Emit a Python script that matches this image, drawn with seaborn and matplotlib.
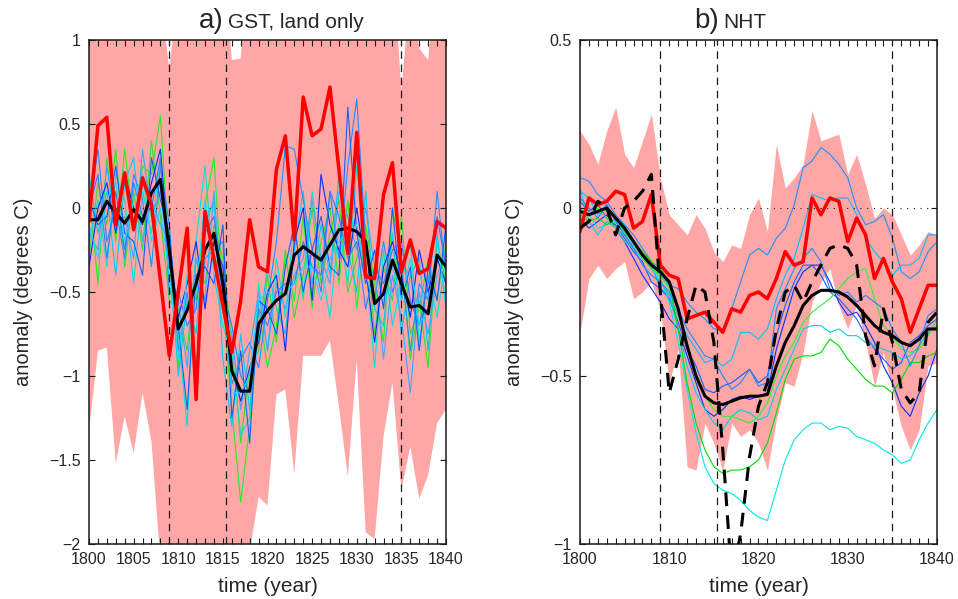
import matplotlib
matplotlib.use("Agg")
import matplotlib.pyplot as plt
import seaborn as sns
from matplotlib.ticker import MultipleLocator, FuncFormatter

years = list(range(1800, 1841))
eruptions = [1809, 1815.3, 1835]

# ---- a) GST, land only ----
gst_upper = [1.30, 1.40, 1.35, 1.30, 1.45, 1.30, 1.40, 1.35, 1.25, 0.83,
             1.30, 1.40, 1.25, 1.35, 1.40, 1.60, 0.88, 0.89, 1.60, 1.40,
             1.30, 1.35, 1.40, 1.30, 1.45, 1.35, 1.40, 1.50, 1.40, 1.35,
             1.45, 1.40, 1.30, 1.35, 1.50, 0.70, 1.30, 0.95, 0.88, 1.50,
             1.40]
gst_lower = [-1.33, -0.85, -0.83, -1.52, -1.24, -1.46, -1.10, -1.39, -2.10, -2.30,
             -2.40, -2.30, -2.50, -2.30, -2.40, -2.30, -2.50, -2.40, -2.05, -1.72,
             -1.77, -1.11, -1.08, -1.58, -0.88, -0.88, -0.88, -0.79, -1.18, -1.60,
             -0.90, -1.93, -1.97, -1.36, -1.04, -1.68, -1.42, -1.73, -1.59, -1.28,
             -1.20]
gst_red = [-0.08, 0.49, 0.54, -0.10, 0.21, -0.13, 0.18, 0.02, -0.43, -0.88,
           -0.50, -0.12, -1.14, -0.02, -0.30, -0.58, -0.86, -0.55, -0.07, -0.35,
           -0.38, 0.23, 0.43, -0.19, 0.66, 0.43, 0.47, 0.72, 0.23, -0.27,
           0.45, -0.41, -0.42, 0.08, 0.27, -0.38, -0.19, -0.39, -0.36, -0.08,
           -0.12]
gst_mean = [-0.07, -0.07, 0.04, -0.03, -0.09, -0.01, -0.08, 0.09, 0.17, -0.25,
            -0.72, -0.61, -0.45, -0.25, -0.15, -0.45, -0.97, -1.09, -1.09, -0.69,
            -0.61, -0.55, -0.51, -0.28, -0.23, -0.27, -0.31, -0.22, -0.13, -0.12,
            -0.14, -0.20, -0.57, -0.51, -0.31, -0.45, -0.59, -0.58, -0.63, -0.28,
            -0.35]
gst_members = {
    "#22ee22": [0.10, -0.45, 0.30, -0.20, 0.35, -0.10, 0.25, 0.20, 0.55, -0.30,
                -0.95, -0.40, -0.55, 0.02, 0.30, -0.55, -1.20, -1.75, -1.30, -0.60,
                -0.95, -0.70, -0.30, -0.55, -0.05, -0.60, -0.20, 0.00, -0.45, 0.05,
                -0.60, -0.10, -0.45, -0.80, 0.00, -0.30, -0.90, -0.55, -0.95, -0.20,
                -0.45],
    "#33dd33": [-0.30, 0.15, -0.10, 0.35, -0.35, 0.10, -0.25, 0.40, -0.05, -0.55,
                -0.60, -0.85, -0.30, -0.45, -0.10, -0.30, -0.80, -1.40, -0.95, -0.85,
                -0.40, -0.80, -0.25, -0.65, -0.40, 0.00, -0.45, -0.15, 0.05, -0.50,
                -0.30, -0.15, -0.75, -0.35, -0.55, -0.05, -0.75, -0.60, -0.30, -0.55,
                -0.20],
    "#00e5d0": [-0.20, 0.05, -0.35, 0.20, 0.05, -0.45, 0.10, -0.15, 0.30, -0.45,
                -0.75, -1.30, -0.20, 0.25, -0.40, -0.70, -0.85, -1.35, -1.25, -0.45,
                -0.85, -0.30, -0.65, -0.05, -0.55, 0.10, -0.35, -0.65, -0.10, -0.45,
                0.25, -0.30, -0.95, -0.25, -0.70, -0.45, -0.20, -0.80, -0.40, -0.65,
                -0.30],
    "#00ccee": [0.20, -0.15, 0.10, -0.40, 0.15, 0.30, -0.20, 0.05, -0.10, -0.20,
                -1.00, -0.55, -0.75, -0.10, 0.05, -0.90, -1.30, -0.75, -1.20, -0.75,
                -0.35, -0.60, -0.75, -0.25, 0.10, -0.45, -0.10, -0.40, 0.20, -0.25,
                -0.50, 0.10, -0.60, -0.70, -0.15, -0.75, -0.40, -0.30, -0.85, -0.15,
                -0.60],
    "#1e90ff": [-0.05, 0.35, -0.20, 0.00, -0.30, 0.20, 0.05, -0.35, 0.25, -0.10,
                -0.85, -0.50, -0.95, -0.30, -0.25, -0.20, -1.05, -0.90, -0.80, -0.95,
                -0.55, -0.20, 0.37, 0.35, 0.05, -0.25, -0.50, 0.10, -0.30, 0.25,
                0.65, -0.20, -0.55, -0.20, -0.50, -0.35, -0.85, -0.45, -0.55, 0.10,
                -0.40],
    "#3aa8ff": [-0.15, -0.25, 0.25, -0.10, -0.05, -0.30, 0.35, -0.05, 0.10, -0.35,
                -0.55, -0.95, -0.30, -0.55, 0.10, -0.60, -0.75, -1.20, -0.85, -0.50,
                -0.85, -0.45, -0.60, -0.40, -0.30, 0.05, -0.30, -0.45, 0.10, -0.05,
                -0.25, 0.00, -0.35, -0.90, -0.40, -0.65, -1.10, -0.50, -0.75, -0.40,
                -0.25],
    "#1060ff": [0.05, -0.10, -0.05, 0.25, -0.15, -0.20, -0.40, 0.30, 0.05, -0.15,
                -0.70, -1.20, -0.40, -0.35, -0.45, -0.10, -1.25, -0.85, -1.40, -0.55,
                -0.60, -0.75, -0.35, -0.10, -0.50, -0.25, -0.05, -0.35, -0.40, 0.60,
                -0.15, -0.45, -0.25, -0.60, 0.00, -0.55, -0.35, -0.85, -0.35, -0.55,
                -0.10],
    "#0030ff": [-0.35, 0.00, 0.15, -0.15, 0.20, 0.00, -0.10, 0.15, 0.35, -0.30,
                -0.65, -0.45, -0.20, -0.60, -0.20, -0.35, -0.95, -1.15, -0.95, -0.80,
                -0.50, -0.40, -0.85, -0.20, 0.00, -0.55, 0.20, -0.10, -0.25, -0.35,
                0.00, -0.35, -0.80, -0.35, -0.20, -0.40, -0.65, -0.25, -0.50, -0.30,
                -0.45],
    "#2a7fff": [0.00, 0.20, -0.30, 0.10, -0.25, 0.15, -0.05, 0.00, 0.30, -0.50,
                -0.50, -0.70, -0.60, -0.15, -0.05, -0.50, -0.70, -1.00, -1.10, -0.60,
                -0.70, -0.50, -0.45, -0.45, -0.20, -0.35, -0.40, 0.10, -0.05, -0.30,
                -0.20, -0.60, -0.35, -0.45, -0.25, -0.20, -0.55, -0.70, -0.45, -0.05,
                -0.35],
    "#19d9ff": [-0.10, -0.30, 0.05, 0.15, -0.20, 0.05, 0.20, -0.20, 0.00, -0.40,
                -0.90, -0.40, -0.50, 0.05, -0.30, -0.45, -1.10, -1.10, -1.00, -0.55,
                -0.50, -0.55, -0.50, -0.45, -0.35, -0.35, -0.55, -0.30, -0.20, -0.15,
                -0.10, -0.40, -0.55, -0.50, -0.35, -0.55, -0.30, -0.70, -0.60, -0.20,
                -0.55],
}

# ---- b) NHT ----
nht_upper = [0.23, 0.19, 0.13, 0.23, 0.30, 0.16, 0.12, 0.20, 0.28, 0.09,
             -0.02, -0.05, -0.08, -0.02, -0.06, -0.13, -0.16, -0.11, -0.12, -0.02,
             0.03, -0.07, 0.19, 0.06, 0.09, 0.13, 0.29, 0.20, 0.21, 0.22,
             0.10, 0.16, 0.07, -0.03, 0.00, -0.02, -0.08, -0.14, -0.11, -0.07,
             -0.08]
nht_lower = [-0.37, -0.21, -0.17, -0.21, -0.18, -0.16, -0.27, -0.25, -0.22, -0.30,
             -0.52, -0.42, -0.77, -0.78, -0.64, -0.70, -0.78, -0.64, -0.68, -0.66,
             -0.70, -0.78, -0.63, -0.52, -0.53, -0.43, -0.28, -0.22, -0.18, -0.29,
             -0.36, -0.29, -0.40, -0.53, -0.43, -0.54, -0.65, -0.72, -0.66, -0.47,
             -0.46]
nht_red = [-0.07, 0.03, 0.01, 0.02, 0.05, 0.04, -0.06, -0.04, 0.04, -0.17,
           -0.20, -0.21, -0.33, -0.32, -0.31, -0.34, -0.37, -0.30, -0.31, -0.26,
           -0.25, -0.27, -0.21, -0.13, -0.17, -0.16, 0.03, -0.02, 0.03, 0.02,
           -0.10, -0.03, -0.08, -0.21, -0.15, -0.22, -0.27, -0.37, -0.30, -0.23,
           -0.23]
nht_mean = [-0.01, -0.02, -0.01, 0.00, -0.03, -0.06, -0.10, -0.14, -0.17, -0.19,
            -0.22, -0.30, -0.41, -0.50, -0.56, -0.58, -0.585, -0.575, -0.565, -0.56,
            -0.56, -0.555, -0.47, -0.40, -0.35, -0.29, -0.26, -0.245, -0.245, -0.25,
            -0.265, -0.29, -0.32, -0.35, -0.37, -0.38, -0.40, -0.41, -0.39, -0.36,
            -0.36]
nht_recon = [-0.06, -0.04, 0.02, 0.00, -0.08, 0.00, 0.02, 0.05, 0.10, -0.25,
             -0.55, -0.45, -0.33, -0.23, -0.25, -0.40, -0.72, -1.10, -0.97, -0.74,
             -0.59, -0.52, -0.36, -0.25, -0.23, -0.28, -0.22, -0.17, -0.12, -0.11,
             -0.12, -0.17, -0.38, -0.47, -0.30, -0.40, -0.54, -0.58, -0.55, -0.34,
             -0.31]
nht_members = {
    "#1e90ff": [0.09, 0.08, 0.04, 0.02, -0.02, -0.05, -0.08, -0.12, -0.16, -0.20,
                -0.23, -0.24, -0.28, -0.31, -0.33, -0.36, -0.36, -0.30, -0.22, -0.14,
                -0.12, -0.14, -0.09, -0.06, 0.01, 0.12, 0.14, 0.18, 0.16, 0.13,
                0.09, 0.00, -0.05, -0.04, -0.02, -0.09, -0.19, -0.21, -0.19, -0.13,
                -0.10],
    "#00bfff": [0.05, 0.03, -0.02, 0.01, -0.04, -0.07, -0.12, -0.15, -0.17, -0.24,
                -0.26, -0.32, -0.38, -0.42, -0.46, -0.45, -0.47, -0.45, -0.37, -0.37,
                -0.39, -0.36, -0.27, -0.20, -0.15, -0.06, 0.04, 0.03, 0.02, 0.03,
                0.03, -0.02, -0.09, -0.13, -0.16, -0.20, -0.17, -0.17, -0.15, -0.08,
                -0.08],
    "#0030ff": [-0.03, -0.06, -0.04, -0.02, -0.06, -0.10, -0.15, -0.20, -0.24, -0.28,
                -0.33, -0.36, -0.44, -0.52, -0.60, -0.62, -0.60, -0.57, -0.56, -0.57,
                -0.56, -0.55, -0.42, -0.33, -0.24, -0.19, -0.17, -0.17, -0.22, -0.28,
                -0.32, -0.31, -0.35, -0.40, -0.47, -0.52, -0.59, -0.62, -0.55, -0.50,
                -0.42],
    "#1560ff": [0.02, -0.01, 0.01, -0.03, -0.05, -0.09, -0.13, -0.16, -0.22, -0.24,
                -0.27, -0.34, -0.42, -0.47, -0.54, -0.55, -0.53, -0.52, -0.50, -0.48,
                -0.52, -0.50, -0.38, -0.29, -0.22, -0.17, -0.17, -0.20, -0.25, -0.27,
                -0.30, -0.33, -0.38, -0.42, -0.45, -0.48, -0.46, -0.40, -0.38, -0.35,
                -0.33],
    "#00e8e8": [0.00, -0.02, -0.06, -0.05, -0.04, -0.08, -0.11, -0.14, -0.17, -0.21,
                -0.28, -0.40, -0.54, -0.67, -0.77, -0.82, -0.84, -0.85, -0.87, -0.90,
                -0.92, -0.93, -0.84, -0.75, -0.69, -0.66, -0.64, -0.64, -0.66, -0.65,
                -0.655, -0.68, -0.69, -0.70, -0.72, -0.735, -0.76, -0.75, -0.69, -0.64,
                -0.60],
    "#00d0e0": [0.06, -0.04, -0.08, -0.04, -0.06, -0.10, -0.12, -0.15, -0.18, -0.22,
                -0.26, -0.36, -0.47, -0.55, -0.60, -0.64, -0.66, -0.62, -0.60, -0.61,
                -0.63, -0.62, -0.54, -0.48, -0.42, -0.36, -0.35, -0.35, -0.37, -0.36,
                -0.38, -0.38, -0.40, -0.41, -0.42, -0.43, -0.45, -0.44, -0.41, -0.37,
                -0.35],
    "#00dd00": [-0.02, -0.04, -0.03, -0.05, -0.03, -0.07, -0.10, -0.13, -0.16, -0.18,
                -0.22, -0.36, -0.52, -0.64, -0.72, -0.77, -0.79, -0.78, -0.78, -0.77,
                -0.75, -0.70, -0.61, -0.51, -0.45, -0.44, -0.44, -0.43, -0.39, -0.41,
                -0.45, -0.48, -0.51, -0.53, -0.53, -0.55, -0.51, -0.46, -0.46, -0.44,
                -0.43],
    "#33ee33": [-0.05, -0.02, 0.00, -0.03, -0.06, -0.08, -0.10, -0.15, -0.18, -0.20,
                -0.24, -0.30, -0.40, -0.49, -0.56, -0.60, -0.62, -0.62, -0.63, -0.64,
                -0.62, -0.58, -0.50, -0.44, -0.40, -0.34, -0.31, -0.29, -0.27, -0.24,
                -0.21, -0.19, -0.18, -0.27, -0.35, -0.38, -0.42, -0.43, -0.42, -0.38,
                -0.33],
    "#2288ff": [0.03, 0.00, -0.03, 0.01, -0.04, -0.08, -0.12, -0.17, -0.20, -0.22,
                -0.25, -0.30, -0.36, -0.40, -0.44, -0.45, -0.50, -0.54, -0.52, -0.48,
                -0.53, -0.52, -0.30, -0.24, -0.18, -0.15, -0.12, -0.16, -0.24, -0.26,
                -0.25, -0.28, -0.26, -0.28, -0.30, -0.36, -0.40, -0.47, -0.41, -0.32,
                -0.30],
}

sns.set_theme(style="white")
plt.rcParams["font.family"] = ["Liberation Sans", "DejaVu Sans"]
pink = "#ffa6a6"


def fmt(v, pos):
    return f"{v:g}".replace("-", "\u2212")


def panel(ax, upper, lower, members, red, mean, ylim, xstep):
    ax.set_axisbelow(False)
    ax.fill_between(years, lower, upper, color=pink, lw=0, zorder=1)
    for c, vals in members.items():
        sns.lineplot(x=years, y=vals, ax=ax, color=c, linewidth=0.8, zorder=2)
    for e in eruptions:
        ax.axvline(e, color="k", lw=0.9, ls=(0, (6, 4.5)), zorder=3)
    ax.axhline(0, color="k", lw=0.8, ls=(0, (1, 5)), zorder=3)
    sns.lineplot(x=years, y=mean, ax=ax, color="#000000", linewidth=2.2, zorder=4)
    sns.lineplot(x=years, y=red, ax=ax, color="#ff0000", linewidth=2.5, zorder=5)
    ax.set_xlim(1800, 1840)
    ax.set_ylim(*ylim)
    ax.xaxis.set_major_locator(MultipleLocator(xstep))
    ax.xaxis.set_minor_locator(MultipleLocator(1))
    ax.yaxis.set_major_locator(MultipleLocator(0.5))
    ax.yaxis.set_major_formatter(FuncFormatter(fmt))
    ax.tick_params(which="both", direction="in", top=True, right=True,
                   bottom=True, left=True,
                   length=4.5, width=0.8, color="k", labelsize=11.5)
    ax.tick_params(axis="x", pad=5.5)
    ax.tick_params(axis="y", pad=6)
    for s in ax.spines.values():
        s.set_color("k")
        s.set_linewidth(1.1)
        s.set_zorder(8)
    ax.set_xlabel("time (year)", fontsize=15)
    ax.set_ylabel("anomaly (degrees C)", fontsize=14.5)
    ax.xaxis.set_label_coords(0.5, -0.066)
    ax.yaxis.set_label_coords(-0.157, 0.5)


fig = plt.figure(figsize=(9.58, 5.99), dpi=100)
ax1 = fig.add_axes([89 / 958, 55 / 599, 357 / 958, 504 / 599])
ax2 = fig.add_axes([580 / 958, 55 / 599, 357 / 958, 504 / 599])

panel(ax1, gst_upper, gst_lower, gst_members, gst_red, gst_mean, (-2, 1), 5)
panel(ax2, nht_upper, nht_lower, nht_members, nht_red, nht_mean, (-1, 0.5), 10)
sns.lineplot(x=years, y=nht_recon, ax=ax2, color="#000000", linewidth=2.2,
             linestyle=(0, (4.5, 3)), zorder=6)

ax1.text(0.378, 1.024, "a)", transform=ax1.transAxes, ha="right", va="baseline", fontsize=20)
ax1.text(0.389, 1.024, "GST, land only", transform=ax1.transAxes, ha="left", va="baseline", fontsize=15)
ax2.text(0.389, 1.024, "b)", transform=ax2.transAxes, ha="right", va="baseline", fontsize=20)
ax2.text(0.40, 1.024, "NHT", transform=ax2.transAxes, ha="left", va="baseline", fontsize=15)

fig.savefig("out.png", dpi=100, facecolor="white")
